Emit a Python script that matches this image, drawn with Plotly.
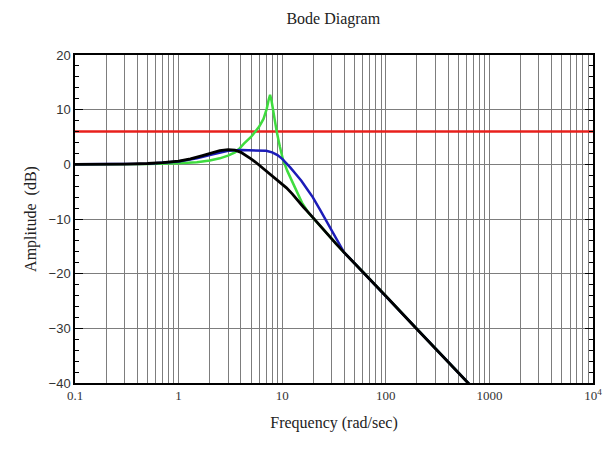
import plotly.graph_objects as go

# ---- data ----
black_w = [0.1, 0.2, 0.3, 0.5, 0.7, 1.0, 1.3, 1.7, 2.0, 2.5, 3.0, 3.5, 4.0, 4.5, 5.0, 5.7, 6.5, 7.5,
           8.5, 9.5, 11, 12.5, 14, 16, 18.5, 21.2, 25, 28.4, 33, 39.5, 50, 63, 100, 196, 300, 400, 607, 700]
black_db = [0.0, 0.0, 0.05, 0.15, 0.3, 0.6, 1.0, 1.6, 2.0, 2.5, 2.7, 2.6, 2.2, 1.6, 1.0, 0.2, -0.7, -1.7,
            -2.5, -3.2, -4.3, -5.4, -6.6, -7.8, -9.1, -10.4, -11.9, -13.1, -14.5, -16.1, -18.1, -20.1,
            -24.1, -30.0, -33.7, -36.2, -39.8, -41.0]

blue_w = [0.1, 0.2, 0.5, 1.0, 1.5, 2.0, 2.5, 3.0, 4.0, 5.0, 6.0, 7.0, 8.0, 9.0, 10.0, 11.0, 12.0, 13.7,
          15.3, 17.5, 19.7, 23, 28.4, 33, 39.5, 50, 63, 100, 196, 300, 400, 607, 700]
blue_db = [0.0, 0.0, 0.1, 0.5, 1.1, 1.7, 2.2, 2.5, 2.6, 2.6, 2.6, 2.5, 2.2, 1.7, 1.0, 0.2, -0.6, -1.9,
           -3.0, -4.6, -6.0, -8.2, -11.3, -13.6, -16.1, -18.1, -20.1, -24.1, -30.0, -33.7, -36.2, -39.8,
           -41.0]

green_w = [0.1, 0.2, 0.5, 1.0, 1.5, 2.0, 2.5, 3.0, 3.5, 3.83, 4.27, 5.0, 5.5, 6.0, 6.6, 7.1, 7.4, 7.64,
           7.9, 8.3, 8.85, 9.5, 10.2, 11.2, 12.3, 13.7, 15.5, 18, 21.2, 25, 28.4, 39.5, 63, 100, 196, 300,
           400, 607, 700]
green_db = [0.0, 0.0, 0.05, 0.2, 0.4, 0.7, 1.1, 1.6, 2.2, 2.8, 3.8, 5.0, 5.9, 6.9, 8.3, 10.2, 11.8, 12.7,
            11.6, 8.8, 6.0, 3.2, 0.8, -1.2, -2.9, -5.0, -7.0, -8.9, -10.4, -11.9, -13.1, -16.1, -20.1, -24.1,
            -30.0, -33.7, -36.2, -39.8, -41.0]

limit_db = 6.0
x_range = [0.1, 10000]

x_major = [0.1, 1, 10, 100, 1000, 10000]
x_major_text = ["0.1", "1", "10", "100", "1000", "10<sup>4</sup>"]
y_ticks = [-40, -30, -20, -10, 0, 10, 20]

# 2..9 x decade positions for the minor vertical grid lines
x_minor = [round(m * d, 6) for d in [0.1, 1, 10, 100, 1000] for m in range(2, 10)]

grid_col = "#7d7d7d"

fig = go.Figure()
fig.add_trace(go.Scatter(x=x_range, y=[limit_db, limit_db], mode="lines",
                         line=dict(color="#e8201c", width=2.5), showlegend=False))
fig.add_trace(go.Scatter(x=green_w, y=green_db, mode="lines",
                         line=dict(color="#3fdc3f", width=2.5), showlegend=False))
fig.add_trace(go.Scatter(x=blue_w, y=blue_db, mode="lines",
                         line=dict(color="#1c1cb8", width=2.5), showlegend=False))
fig.add_trace(go.Scatter(x=black_w, y=black_db, mode="lines",
                         line=dict(color="#000000", width=2.8), showlegend=False))

fig.update_layout(
    width=614, height=452,
    margin=dict(l=75, r=13, t=55, b=69),
    paper_bgcolor="white", plot_bgcolor="white",
    title=dict(text="Bode Diagram", x=0.5428, xanchor="center", y=0.96, yanchor="middle",
               font=dict(family="Liberation Serif", size=16, color="#222")),
    xaxis=dict(type="log", range=[-1, 4], tickmode="array", tickvals=x_major, ticktext=x_major_text,
               showgrid=True, gridcolor=grid_col, gridwidth=1, ticks="", zeroline=False,
               minor=dict(tickmode="array", tickvals=x_minor, showgrid=True,
                          gridcolor=grid_col, gridwidth=1, ticks=""),
               showline=True, linecolor="black", linewidth=1.5, mirror=True,
               tickfont=dict(family="Liberation Serif", size=13, color="#333"),
               title=dict(text="Frequency (rad/sec)", standoff=14,
                          font=dict(family="Liberation Serif", size=16, color="#222"))),
    yaxis=dict(range=[-40, 20], tickmode="array", tickvals=y_ticks,
               showgrid=True, gridcolor=grid_col, gridwidth=1, zeroline=False,
               ticks="inside", ticklen=8, tickcolor="black", tickwidth=1,
               showline=True, linecolor="black", linewidth=1.5, mirror="allticks",
               minor=dict(dtick=2, ticks="inside", ticklen=4, tickcolor="black", showgrid=False),
               tickfont=dict(family="Liberation Sans", size=13, color="#333"),
               title=dict(text="Amplitude  (dB)", standoff=8,
                          font=dict(family="Liberation Serif", size=16, color="#222"))),
)

fig.write_html("out.html")
